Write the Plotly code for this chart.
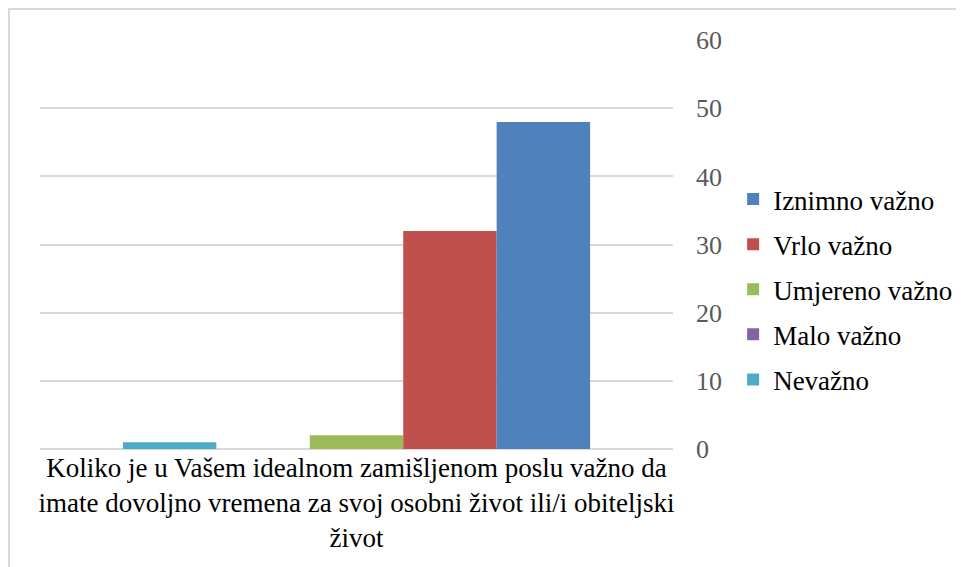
import plotly.graph_objects as go

category = ["Koliko je u Vašem idealnom zamišljenom poslu važno da<br>imate dovoljno vremena za svoj osobni život ili/i obiteljski<br>život"]
series_names = ["Nevažno", "Malo važno", "Umjereno važno", "Vrlo važno", "Iznimno važno"]
series_values = [[1], [0], [2], [32], [48]]
series_colors = ["#4bacc6", "#8064a2", "#9bbb59", "#c0504d", "#4f81bd"]
y_ticks = [0, 10, 20, 30, 40, 50, 60]

FONT = "Liberation Serif, Times New Roman, serif"

fig = go.Figure()
n = len(series_names)
for i, (name, vals, col) in enumerate(zip(series_names, series_values, series_colors)):
    fig.add_trace(go.Bar(x=category, y=vals, name=name, marker=dict(color=col, line=dict(width=0)),
                         legendgroup=name, legendrank=1000 + (n - i)))

fig.update_layout(
    width=964, height=567,
    margin=dict(l=32, r=299, t=32, b=126),
    paper_bgcolor="white", plot_bgcolor="white",
    barmode="group", bargap=0.262, bargroupgap=0,
    font=dict(family=FONT, size=27, color="black"),
    showlegend=True,
    legend=dict(traceorder="grouped", x=1.095, xanchor="left", y=0.39, yanchor="middle",
                font=dict(family=FONT, size=27, color="black"), tracegroupgap=7,
                bgcolor="rgba(0,0,0,0)"),
    xaxis=dict(showgrid=False, showline=False, ticks="", tickfont=dict(family=FONT, size=27, color="black"),
               fixedrange=True),
    yaxis=dict(side="right", range=[0, 60.02], tickvals=y_ticks, showgrid=True, gridcolor="#d9d9d9", gridwidth=1.5,
               zeroline=True, zerolinecolor="#d9d9d9", zerolinewidth=1.5, showline=False,
               tickfont=dict(family=FONT, size=26, color="#595959"), ticklabelstandoff=22),
    shapes=[dict(type="rect", xref="paper", yref="paper",
                 x0=(1 - 32) / 633, x1=(990 - 32) / 633,
                 y0=(441 - 600) / 409, y1=(441 - 1) / 409,
                 line=dict(color="#d9d9d9", width=2), fillcolor="rgba(0,0,0,0)", layer="below")],
)

fig.write_html("out.html")
